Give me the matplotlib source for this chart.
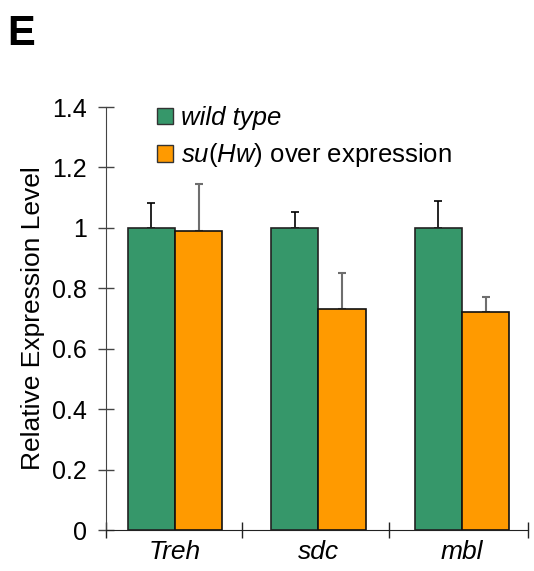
import numpy as np
import matplotlib.pyplot as plt
import matplotlib.patches as mpatches

plt.rcParams['font.family'] = ['Liberation Sans', 'DejaVu Sans']
plt.rcParams['mathtext.fontset'] = 'custom'
plt.rcParams['mathtext.it'] = 'Liberation Sans:italic'
plt.rcParams['mathtext.rm'] = 'Liberation Sans'

# dados
genes = ['Treh', 'sdc', 'mbl']
wild_type = [1.0, 1.0, 1.0]
wild_type_err = [0.082, 0.051, 0.089]
over_expr = [0.988, 0.731, 0.721]
over_expr_err = [0.158, 0.119, 0.049]
yticks = [0, 0.2, 0.4, 0.6, 0.8, 1.0, 1.2, 1.4]
ytick_labels = ['0', '0.2', '0.4', '0.6', '0.8', '1', '1.2', '1.4']

verde = '#36976a'
laranja = '#ff9a00'


def main():
    fig = plt.figure(figsize=(5.34, 5.71), dpi=100)
    ax = fig.add_axes([0.1985, 0.0718, 0.7903, 0.7408])

    x = np.arange(len(genes))
    w = 0.33

    ax.bar(x - w / 2, wild_type, w, color=verde, edgecolor='#222222', linewidth=1.2, zorder=2)
    ax.bar(x + w / 2, over_expr, w, color=laranja, edgecolor='#111111', linewidth=1.2, zorder=2)

    # barras de erro so para cima
    ax.errorbar(x - w / 2, wild_type, yerr=[np.zeros(3), wild_type_err], fmt='none',
                ecolor='black', elinewidth=1.2, capsize=2.8, capthick=1.2, zorder=1)
    ax.errorbar(x + w / 2, over_expr, yerr=[np.zeros(3), over_expr_err], fmt='none',
                ecolor='#6e6e6e', elinewidth=1.5, capsize=2.8, capthick=1.5, zorder=1)

    ax.set_xlim(-0.48, 2.46)
    ax.set_ylim(0, 1.4)

    ax.spines['top'].set_visible(False)
    ax.spines['right'].set_visible(False)
    ax.spines['left'].set_color('#444444')
    ax.spines['bottom'].set_color('#222222')

    ax.set_yticks(yticks)
    ax.set_yticklabels(ytick_labels, fontsize=18)
    ax.tick_params(axis='y', direction='inout', length=11, width=1, color='#444444', pad=8)

    ax.set_xticks(x)
    ax.set_xticklabels(genes, fontsize=19, style='italic')
    ax.tick_params(axis='x', which='major', length=0, pad=7)
    ax.set_xticks([-0.48, 0.47, 1.49, 2.46], minor=True)
    ax.tick_params(axis='x', which='minor', direction='inout', length=12, width=1, color='#222222')

    ax.set_ylabel('Relative Expression Level', fontsize=19, labelpad=5)

    handles = [mpatches.Patch(facecolor=verde, edgecolor='#333333'),
               mpatches.Patch(facecolor=laranja, edgecolor='#333333')]
    leg = fig.legend(handles, ['wild type', r'$\it{su(Hw)}$ over expression'],
                     loc='upper left', bbox_to_anchor=(157 / 534, 1 - 106 / 571),
                     frameon=False, borderpad=0, borderaxespad=0,
                     fontsize=18.5, handlelength=0.62, handleheight=0.62,
                     handletextpad=0.3, labelspacing=0.44)
    leg.get_texts()[0].set_style('italic')

    fig.text(0.013, 1 - 45 / 571, 'E', fontsize=30, fontweight='bold')

    fig.savefig('out.png', dpi=100)


if __name__ == "__main__":
    main()
